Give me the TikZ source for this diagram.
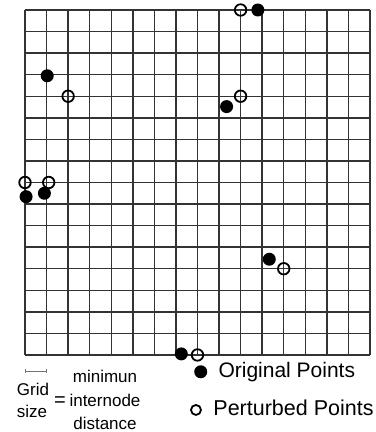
\documentclass[tikz,border=0pt]{standalone}
\usepackage{fontspec}
\setmainfont{Liberation Sans}
\usetikzlibrary{arrows.meta}
\begin{document}
\begin{tikzpicture}[x=21.56pt, y=-21.56pt,
  gridline/.style={draw=black!80, line width=1.4pt},
  orig/.style={circle, fill=black, inner sep=0pt, minimum size=13pt},
  pert/.style={circle, draw=black, line width=1.8pt, inner sep=0pt, minimum size=11.5pt},
  small/.style={inner sep=0pt, anchor=base, font=\fontsize{17}{23.5}\selectfont},
  big/.style={inner sep=0pt, anchor=base west, font=\fontsize{21}{24}\selectfont}]
\useasboundingbox (-1.1596,-0.4638) rectangle (16.280,19.573);
% grid of 16 x 16 cells
\foreach \i in {0,...,16} {
  \draw[gridline] (\i,0) -- (\i,16);
  \draw[gridline] (0,\i) -- (16,\i);
}
% original points
\node[orig] (o1) at (10.8,0) {};
\node[orig] (o2) at (1.03,3.05) {};
\node[orig] (o3) at (9.35,4.48) {};
\node[orig] (o4) at (0.05,8.66) {};
\node[orig] (o5) at (0.9,8.5) {};
\node[orig] (o6) at (11.33,11.56) {};
\node[orig] (o7) at (7.25,15.95) {};
% perturbed points
\node[pert] (p1) at (10,0) {};
\node[pert] (p2) at (2,4) {};
\node[pert] (p3) at (10,4) {};
\node[pert] (p4) at (0,8) {};
\node[pert] (p5) at (1.1,8) {};
\node[pert] (p6) at (12,12) {};
\node[pert] (p7) at (8,16) {};
% grid size legend
\coordinate (barl) at (0,16.74);
\coordinate (barr) at (1,16.74);
\draw[black!55, line width=0.8pt, {Bar[width=4pt]}-{Bar[width=4pt]}] (barl) -- (barr);
\node[small, align=left, anchor=base west, font=\fontsize{17}{22}\selectfont] (gs) at (-0.385,18.92) {Grid\\size};
\node[small, anchor=center, font=\fontsize{20}{20}\selectfont] (eq) at (1.62,18.14) {=};
\node[small, align=center] (mid) at (3.71,19.48) {minimun\\internode\\distance};
% point legend
\node[orig] (lo) at (8.15,16.78) {};
\node[pert, minimum size=10pt] (lp) at (7.93,18.55) {};
\node[big] (lot) at (8.966,17.04) {Original Points};
\node[big, font=\fontsize{21.5}{24}\selectfont] (lpt) at (8.73,18.83) {Perturbed Points};
\end{tikzpicture}
\end{document}
